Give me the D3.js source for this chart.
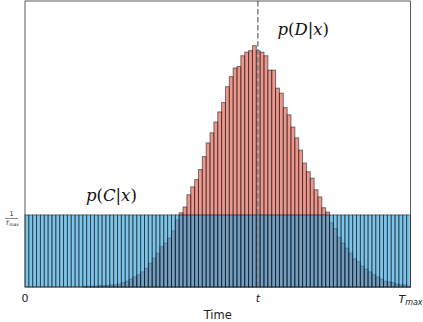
<!DOCTYPE html>
<html>
<head>
<meta charset="utf-8">
<script src="https://cdn.jsdelivr.net/npm/d3@7.9.0/dist/d3.min.js"></script>
<style>
  body { margin: 0; background: #fff; }
  svg { display: block; }
  .tick-label { font-family: "DejaVu Sans", sans-serif; fill: #222; }
  .math { font-family: "DejaVu Serif", serif; font-style: italic; fill: #111; }
</style>
</head>
<body>
<svg id="chart" width="423" height="322"></svg>
<script>
// 100 bins over [0, Tmax]; density values, uniform prior = 1/Tmax = 0.01
const binCount = 100;
const tBin = 60;
const uniformDensity = 0.01;

const gaussDensity = [
  0, 0, 0, 0, 0, 0, 0, 0, 0, 0,
  0, 0, 0, 0, 0, 0.0001, 0.0001, 0.0001, 0.0001, 0.0002,
  0.0002, 0.0002, 0.0003, 0.0003, 0.0004, 0.0006, 0.0008, 0.0011, 0.0014, 0.0017,
  0.0021, 0.0026, 0.0033, 0.0040, 0.0047, 0.0056, 0.0061, 0.0068, 0.0078, 0.0093,
  0.0103, 0.0111, 0.0128, 0.0139, 0.0149, 0.0163, 0.0181, 0.0200, 0.0214, 0.0229,
  0.0243, 0.0256, 0.0278, 0.0292, 0.0304, 0.0306, 0.0321, 0.0326, 0.0328, 0.0335,
  0.0328, 0.0326, 0.0321, 0.0301, 0.0301, 0.0276, 0.0269, 0.0249, 0.0239, 0.0222,
  0.0207, 0.0190, 0.0172, 0.0160, 0.0151, 0.0135, 0.0125, 0.0110, 0.0104, 0.0089,
  0.0081, 0.0069, 0.0061, 0.0054, 0.0047, 0.0039, 0.0035, 0.0029, 0.0025, 0.0021,
  0.0017, 0.0014, 0.0011, 0.0008, 0.0007, 0.0006, 0.0004, 0.0003, 0.0003, 0.0001
];
const uniform = d3.range(binCount).map(() => uniformDensity);

const width = 423;
const height = 322;
const margin = { top: 1, right: 12.5, bottom: 35, left: 25 };

const svg = d3.select('#chart');

const x = d3.scaleLinear().domain([0, binCount]).range([margin.left, width - margin.right]);
const y = d3.scaleLinear().domain([0, 0.0397]).range([height - margin.bottom, margin.top]);

function drawHist(values, color, opacity) {
  svg.append('g')
    .selectAll('rect')
    .data(values)
    .join('rect')
    .attr('x', (_, i) => x(i))
    .attr('width', x(1) - x(0))
    .attr('y', (d) => y(d))
    .attr('height', (d) => y(0) - y(d))
    .attr('fill', color)
    .attr('fill-opacity', opacity)
    .attr('stroke', '#000')
    .attr('stroke-opacity', 0.5)
    .attr('stroke-width', 1);
}

drawHist(gaussDensity, '#df5443', 0.6);
drawHist(uniform, '#2e9fdc', 0.62);

// observed time
svg.append('line')
  .attr('x1', x(tBin + 0.4)).attr('x2', x(tBin + 0.4))
  .attr('y1', y.range()[1]).attr('y2', y(0))
  .attr('stroke', '#808080')
  .attr('stroke-width', 1.5)
  .attr('stroke-dasharray', '5.5,2.5');

// frame
svg.append('rect')
  .attr('x', x(0)).attr('y', y.range()[1])
  .attr('width', x(binCount) - x(0))
  .attr('height', y(0) - y.range()[1])
  .attr('fill', 'none')
  .attr('stroke', '#333')
  .attr('stroke-width', 0.8);

// x tick labels
const tickY = y(0) + 15;
svg.append('text').attr('class', 'tick-label').style('font-size', '11px')
  .attr('x', x(0)).attr('y', tickY).attr('text-anchor', 'middle').text('0');
svg.append('text').attr('class', 'tick-label').style('font-size', '11px').attr('font-style', 'italic')
  .attr('x', x(tBin + 0.4)).attr('y', tickY).attr('text-anchor', 'middle').text('t');
const tmax = svg.append('text').attr('class', 'tick-label').style('font-size', '11px')
  .attr('font-style', 'italic')
  .attr('x', x(binCount)).attr('y', tickY + 1).attr('text-anchor', 'middle');
tmax.append('tspan').text('T');
tmax.append('tspan').style('font-size', '8px').attr('dy', 2).text('max');

svg.append('text').attr('class', 'tick-label').style('font-size', '11.5px')
  .attr('x', (x(0) + x(binCount)) / 2).attr('y', height - 3)
  .attr('text-anchor', 'middle').text('Time');

// y tick label: 1 / T_max
const yTick = y(uniformDensity);
const frac = svg.append('g').attr('transform', `translate(11.5,${yTick + 3})`);
frac.append('text').attr('class', 'tick-label').style('font-size', '6.5px')
  .attr('text-anchor', 'middle').attr('x', 0).attr('y', -2).text('1');
frac.append('line').attr('x1', -6.5).attr('x2', 6.5).attr('y1', 0.5).attr('y2', 0.5)
  .attr('stroke', '#333').attr('stroke-width', 0.6);
const fracT = frac.append('text').attr('class', 'tick-label').style('font-size', '6px')
  .attr('font-style', 'italic').attr('x', -6).attr('y', 7.5);
fracT.append('tspan').text('T');
fracT.append('tspan').style('font-size', '4.5px').attr('dy', 1).text('max');

// annotations
function mathLabel(px, py, letter) {
  const t = svg.append('text').attr('class', 'math').attr('x', px).attr('y', py).style('font-size', '16.5px');
  t.append('tspan').text('p');
  t.append('tspan').attr('font-style', 'normal').text('(');
  t.append('tspan').text(letter);
  t.append('tspan').attr('font-style', 'normal').text('|');
  t.append('tspan').text('x');
  t.append('tspan').attr('font-style', 'normal').text(')');
}
mathLabel(x(65.5), y(0.0350), 'D');
mathLabel(x(15.8), y(0.0120), 'C');
</script>
</body>
</html>
